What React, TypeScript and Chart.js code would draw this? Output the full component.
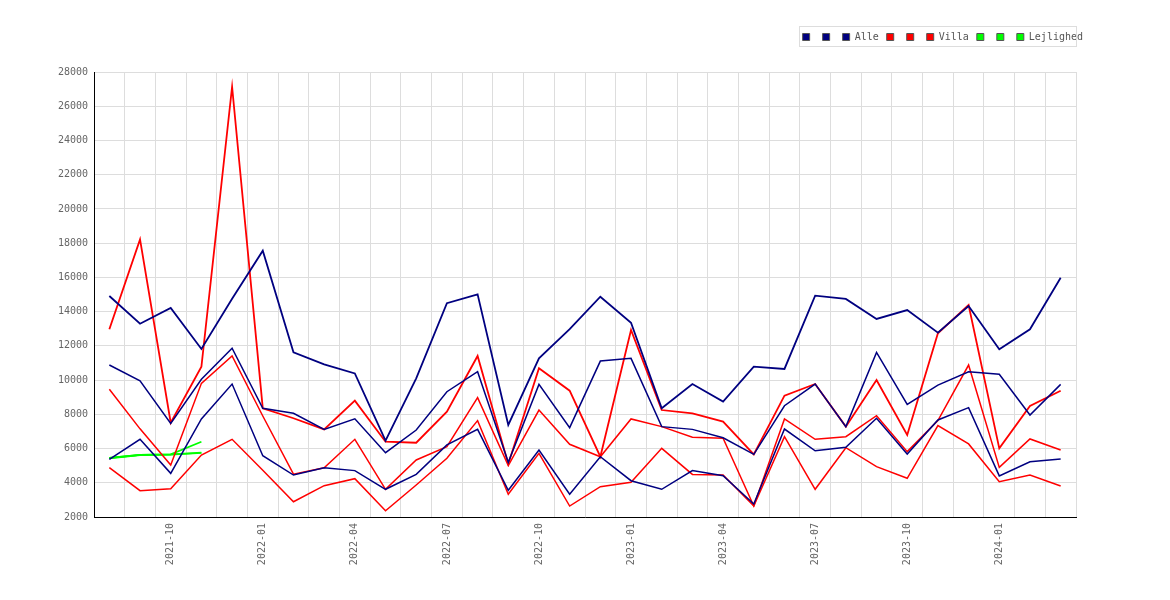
import { useEffect, useRef } from 'react';
import { Chart, registerables } from 'chart.js';

Chart.register(...registerables);

const months = [
  '2021-08', '2021-09', '2021-10', '2021-11', '2021-12',
  '2022-01', '2022-02', '2022-03', '2022-04', '2022-05', '2022-06',
  '2022-07', '2022-08', '2022-09', '2022-10', '2022-11', '2022-12',
  '2023-01', '2023-02', '2023-03', '2023-04', '2023-05', '2023-06',
  '2023-07', '2023-08', '2023-09', '2023-10', '2023-11', '2023-12',
  '2024-01', '2024-02', '2024-03',
];

const alleA = [14910, 13290, 14210, 11820, 14750, 17560, 11620, 10920, 10390, 6460, 10100, 14490, 15010, 7380, 11270, 12980, 14870, 13350, 8350, 9770, 8740, 10780, 10650, 14930, 14740, 13570, 14090, 12770, 14330, 11800, 12970, 15980];
const alleB = [10880, 9950, 7470, 10050, 11860, 8350, 8060, 7120, 7740, 5760, 7080, 9320, 10490, 5200, 9750, 7220, 11110, 11270, 7280, 7120, 6630, 5660, 8500, 9770, 7280, 11620, 8580, 9710, 10490, 10340, 7960, 9750];
const alleC = [5370, 6540, 4550, 7730, 9770, 5580, 4450, 4880, 4710, 3620, 4490, 6210, 7120, 3560, 5910, 3330, 5520, 4120, 3620, 4710, 4410, 2760, 7140, 5870, 6070, 7770, 5680, 7670, 8390, 4400, 5230, 5390];

const villaA = [12970, 18220, 7510, 10780, 27140, 8350, 7770, 7120, 8800, 6400, 6340, 8150, 11410, 5100, 10690, 9380, 5520, 12930, 8250, 8060, 7570, 5660, 9090, 9770, 7280, 10000, 6790, 12730, 14390, 6010, 8490, 9380];
const villaB = [9460, 7150, 5040, 9810, 11410, 7900, 4500, 4880, 6540, 3620, 5330, 6110, 8970, 5000, 8250, 6250, 5520, 7730, 7280, 6660, 6600, 2640, 7730, 6540, 6690, 7920, 5820, 7630, 10880, 4900, 6560, 5910];
const villaC = [4880, 3540, 3650, 5620, 6540, 4730, 2890, 3830, 4240, 2360, 3870, 5430, 7630, 3330, 5720, 2640, 3770, 4030, 6010, 4490, 4450, 2640, 6690, 3620, 6050, 4940, 4260, 7340, 6270, 4060, 4450, 3810];

const lejlA = [5450, 5630, 5660, 6400];
const lejlB = [5450, 5630, 5660, 5760];
const lejlC = [5430, 5610, 5640, 5740];

const yTicksMin = 2000;
const yTicksMax = 28000;
const yTickStep = 2000;
const shownMonths = ['01', '04', '07', '10'];

const FONT = "'DejaVu Sans Mono', monospace";
const NAVY = '#000080';
const RED = '#ff0000';
const GREEN = '#00ff00';

const legendBorder = {
  id: 'legendBorder',
  beforeLayout(chart: any) {
    const legend = chart.legend;
    if (!legend || legend._patchedFit) return;
    const fit = legend.fit;
    legend.fit = function () {
      fit.call(this);
      this.height += 20;
    };
    legend._patchedFit = true;
  },
  afterDraw(chart: any) {
    const legend = chart.legend;
    const hb = legend && legend.legendHitBoxes;
    if (!hb || !hb.length) return;
    const ctx = chart.ctx;
    const top = Math.round(hb[0].top - 6) + 0.5;
    const bottom = Math.round(hb[0].top + hb[0].height + 4) + 0.5;
    const left = Math.round(hb[0].left - 4) + 0.5;
    const right = Math.round(chart.chartArea.right) + 0.5;
    ctx.save();
    ctx.strokeStyle = '#dddddd';
    ctx.lineWidth = 1;
    ctx.strokeRect(left, top, right - left, bottom - top);
    ctx.restore();
  },
};

export default function App() {
  const ref = useRef<HTMLCanvasElement | null>(null);

  useEffect(() => {
    if (!ref.current) return;
    const mk = (label: string, data: number[], color: string, width: number) => ({
      label,
      data,
      borderColor: color,
      backgroundColor: color,
      borderWidth: width,
      pointRadius: 0,
      pointHoverRadius: 0,
      tension: 0,
      fill: false,
      yAxisID: 'y',
    });
    const chart = new Chart(ref.current, {
      type: 'line',
      data: {
        labels: months,
        datasets: [
          mk('', alleA, NAVY, 1.8),
          mk('', alleB, NAVY, 1.5),
          mk('Alle', alleC, NAVY, 1.5),
          mk('', villaA, RED, 1.8),
          mk('', villaB, RED, 1.5),
          mk('Villa', villaC, RED, 1.5),
          mk('', lejlA, GREEN, 1.7),
          mk('', lejlB, GREEN, 1.7),
          mk('Lejlighed', lejlC, GREEN, 1.7),
        ],
      },
      options: {
        animation: false,
        responsive: true,
        maintainAspectRatio: false,
        events: [],
        layout: { padding: { top: 16, right: 71, bottom: 0, left: 0 } },
        plugins: {
          tooltip: { enabled: false },
          title: { display: false },
          legend: {
            position: 'top',
            align: 'end',
            labels: {
              boxWidth: 7,
              boxHeight: 7,
              padding: 8,
              color: '#555555',
              font: { family: FONT, size: 10 },
              generateLabels: (c: any) =>
                c.data.datasets.map((ds: any, i: number) => ({
                  text: ds.label,
                  fillStyle: ds.borderColor,
                  strokeStyle: '#555555',
                  lineWidth: 1,
                  hidden: false,
                  datasetIndex: i,
                  fontColor: '#555555',
                })),
            },
          },
        },
        scales: {
          x: {
            type: 'category',
            offset: true,
            grid: { color: '#dddddd', offset: true, drawTicks: false, tickLength: 0 },
            border: { display: true, color: '#000000', width: 1 },
            ticks: {
              autoSkip: false,
              maxRotation: 90,
              minRotation: 90,
              padding: 6,
              color: '#666666',
              font: { family: FONT, size: 10 },
              callback: (_v: any, i: number) => {
                const m = months[i];
                return shownMonths.includes(m.slice(5)) ? m : '';
              },
            },
            afterFit: (s: any) => {
              s.height = 75;
            },
          },
          y: {
            type: 'linear',
            position: 'left',
            min: yTicksMin,
            max: yTicksMax,
            grid: { color: '#dddddd', drawTicks: false, tickLength: 0 },
            border: { display: true, color: '#000000', width: 1 },
            ticks: {
              stepSize: yTickStep,
              padding: 6,
              color: '#666666',
              font: { family: FONT, size: 10 },
              callback: (v: any) => String(v),
            },
            afterFit: (s: any) => {
              s.width = 86;
            },
          },
          y2: {
            type: 'linear',
            position: 'right',
            display: true,
            grid: { display: false, drawTicks: false },
            border: { display: false },
            ticks: { display: false },
            afterFit: (s: any) => {
              s.width = 15;
            },
          },
        },
      },
      plugins: [legendBorder],
    } as any);
    return () => chart.destroy();
  }, []);

  return (
    <div style={{ width: 1154, height: 584, position: 'relative' }}>
      <canvas ref={ref} />
    </div>
  );
}
